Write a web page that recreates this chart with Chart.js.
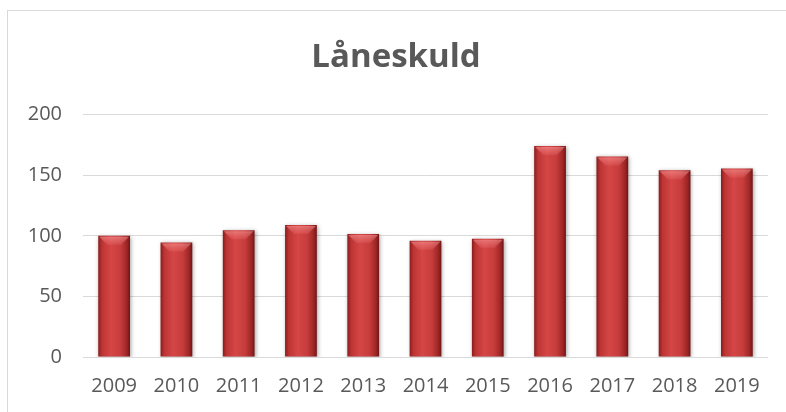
<!DOCTYPE html>
<html>
<head>
<meta charset="utf-8">
<script src="https://cdn.jsdelivr.net/npm/chart.js@4"></script>
<style>
  html, body { margin: 0; padding: 0; background: #fff; overflow: hidden; width: 786px; height: 412px; }
  .frame { position: absolute; left: 7px; top: 10px; width: 779px; height: 402px; border-left: 1px solid #d9d9d9; border-top: 1px solid #d9d9d9; box-sizing: border-box; }
  .wrap { position: absolute; left: 0; top: 0; width: 786px; height: 412px; }
</style>
</head>
<body>
<div class="frame"></div>
<div class="wrap"><canvas id="skuldChart" width="786" height="412"></canvas></div>
<script>
const years = ['2009', '2010', '2011', '2012', '2013', '2014', '2015', '2016', '2017', '2018', '2019'];
const skuld = [100, 94.5, 104.5, 109, 101.5, 96, 97.5, 174, 165.5, 154, 155.5];
const yTicks = [0, 50, 100, 150, 200];

const textColor = '#595959';
const gridColor = '#d9d9d9';
const barPct = 0.51;

// dark edges, lighter red just left of the centre of each bar
const barFill = (c) => {
  const chart = c.chart;
  const xs = chart.scales.x;
  if (c.type !== 'data' || !xs || !chart.chartArea) {
    return '#c23a3a';
  }
  const cx = xs.getPixelForValue(c.dataIndex);
  const w = xs.width / years.length * barPct;
  const g = chart.ctx.createLinearGradient(cx - w / 2, 0, cx + w / 2, 0);
  g.addColorStop(0, '#8a1c1c');
  g.addColorStop(0.12, '#bd3434');
  g.addColorStop(0.4, '#d54646');
  g.addColorStop(0.7, '#c63c3c');
  g.addColorStop(0.9, '#9e2626');
  g.addColorStop(1, '#701515');
  return g;
};

// soft shadow round the bars and a light bevel at their tops
const barShading = {
  id: 'barShading',
  beforeDatasetsDraw(chart) {
    const ctx = chart.ctx;
    ctx.save();
    ctx.shadowColor = 'rgba(0,0,0,0.35)';
    ctx.shadowBlur = 4;
    ctx.shadowOffsetX = 1;
    ctx.shadowOffsetY = 1;
  },
  afterDatasetsDraw(chart) {
    const ctx = chart.ctx;
    ctx.restore();
    ctx.save();
    chart.getDatasetMeta(0).data.forEach(bar => {
      const left = bar.x - bar.width / 2;
      const right = bar.x + bar.width / 2;
      const top = bar.y;
      const inset = bar.width * 0.28;
      const g = ctx.createLinearGradient(0, top, 0, top + 9);
      g.addColorStop(0, 'rgba(255,170,170,0.55)');
      g.addColorStop(1, 'rgba(255,140,140,0.15)');
      ctx.fillStyle = g;
      ctx.beginPath();
      ctx.moveTo(left + 1, top + 1);
      ctx.lineTo(right - 1, top + 1);
      ctx.lineTo(right - inset, top + 9);
      ctx.lineTo(left + inset, top + 9);
      ctx.closePath();
      ctx.fill();
    });
    ctx.restore();
  }
};

const skuldChart = new Chart(document.getElementById('skuldChart').getContext('2d'), {
  type: 'bar',
  data: {
    labels: years,
    datasets: [{
      label: 'Låneskuld',
      data: skuld,
      backgroundColor: barFill,
      borderWidth: 0,
      barPercentage: barPct,
      categoryPercentage: 1
    }]
  },
  options: {
    responsive: false,
    animation: false,
    layout: {
      padding: { left: 24, right: 18, top: 0, bottom: 14 }
    },
    plugins: {
      legend: { display: false },
      tooltip: { enabled: false },
      title: {
        display: true,
        text: 'Låneskuld',
        color: textColor,
        font: { family: '"Open Sans", sans-serif', size: 33, weight: 'bold' },
        padding: { top: 38, bottom: 37 }
      }
    },
    scales: {
      x: {
        afterFit: scale => { scale.height = 41; },
        grid: { display: false, drawTicks: false },
        border: { display: false },
        ticks: {
          color: textColor,
          padding: 17,
          maxRotation: 0,
          font: { family: '"Open Sans", sans-serif', size: 20 }
        }
      },
      y: {
        min: 0,
        max: 200,
        afterFit: scale => { scale.width = 59; },
        afterBuildTicks: scale => { scale.ticks = yTicks.map(v => ({ value: v })); },
        grid: { color: gridColor, lineWidth: 1, drawTicks: false },
        border: { display: false },
        ticks: {
          color: textColor,
          padding: 21,
          font: { family: '"Open Sans", sans-serif', size: 20 }
        }
      }
    }
  },
  plugins: [barShading]
});
</script>
</body>
</html>
